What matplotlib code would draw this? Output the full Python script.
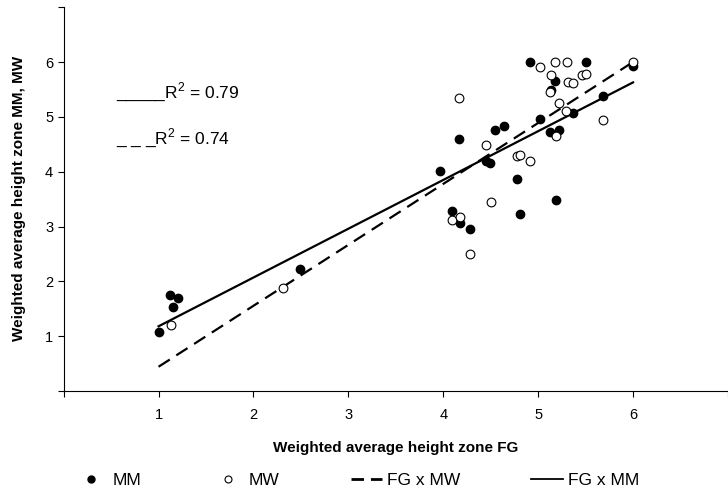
import numpy as np
import matplotlib
matplotlib.use('Agg')
from matplotlib import pyplot as plt
from matplotlib.lines import Line2D

plt.rcParams['font.family'] = ['Liberation Sans', 'DejaVu Sans']
plt.rcParams['mathtext.fontset'] = 'custom'
plt.rcParams['mathtext.rm'] = 'Liberation Sans'

# weighted average height zones per plot
fg_mm = [1.00, 1.12, 1.20, 1.155, 2.49, 3.97, 4.09, 4.17, 4.18, 4.28, 4.45, 4.49,
         4.55, 4.64, 4.78, 4.81, 4.91, 5.02, 5.12, 5.14, 5.18, 5.19, 5.22, 5.37,
         5.50, 5.68, 6.00]
mm = [1.07, 1.75, 1.69, 1.54, 2.22, 4.01, 3.28, 4.59, 3.07, 2.96, 4.19, 4.16,
      4.77, 4.83, 3.86, 3.23, 6.00, 4.96, 4.72, 5.49, 5.66, 3.49, 4.77, 5.07,
      6.00, 5.38, 5.93]

fg_mw = [1.13, 2.31, 4.09, 4.17, 4.18, 4.28, 4.45, 4.50, 4.78, 4.81, 4.91, 5.02,
         5.12, 5.14, 5.18, 5.19, 5.22, 5.29, 5.30, 5.31, 5.37, 5.46, 5.50, 5.68,
         6.00]
mw = [1.20, 1.87, 3.12, 5.34, 3.18, 2.50, 4.48, 3.45, 4.28, 4.30, 4.20, 5.91,
      5.45, 5.76, 6.00, 4.65, 5.26, 5.11, 6.00, 5.63, 5.61, 5.76, 5.79, 4.95,
      6.00]

# linear trend lines (slope, intercept) and their R2
fit_mm = (0.89, 0.29)
fit_mw = (1.112, -0.67)
r2_mm = 0.79
r2_mw = 0.74
fit_range = [1, 6]

fig = plt.figure(figsize=(7.28, 4.91), dpi=100)
ax = fig.add_axes([0.0874, 0.2037, 0.9126, 0.7826])

xs = np.array(fit_range)
ax.plot(xs, fit_mw[0] * xs + fit_mw[1], color='black', lw=1.6, dashes=(6, 3.5))
ax.plot(xs, fit_mm[0] * xs + fit_mm[1], color='black', lw=1.6)

ax.plot(fg_mm, mm, 'o', color='black', ms=6, zorder=3)
ax.plot(fg_mw, mw, 'o', mfc='white', mec='black', mew=0.8, ms=6.3, zorder=3)

ax.set_xlim(0, 6.906)
ax.set_ylim(0, 7.01)
ax.set_xticks(range(0, 8))
ax.set_xticklabels(['', '1', '2', '3', '4', '5', '6', ''])
ax.set_yticks(range(0, 8))
ax.set_yticklabels(['', '1', '2', '3', '4', '5', '6', ''])
ax.tick_params(direction='out', length=4, width=0.8, labelsize=10.5)
ax.tick_params(axis='x', pad=8)
ax.spines['top'].set_visible(False)
ax.spines['right'].set_visible(False)

ax.set_xlabel('Weighted average height zone FG', fontsize=11, fontweight='bold', labelpad=14)
ax.set_ylabel('Weighted average height zone MM, MW', fontsize=11, fontweight='bold', labelpad=14)

ax.text(0.555, 5.36, '_____R$^2$ = %.2f' % r2_mm, fontsize=12.5, va='baseline')
ax.text(0.555, 4.52, '_ _ _R$^2$ = %.2f' % r2_mw, fontsize=12.5, va='baseline')

handles = [
    Line2D([], [], ls='none', marker='o', color='black', ms=5),
    Line2D([], [], ls='none', marker='o', mfc='white', mec='black', mew=0.8, ms=5),
    Line2D([], [], color='black', lw=2, dashes=(4.5, 2.5)),
    Line2D([], [], color='black', lw=1.3),
]
fig.legend(handles, ['MM', 'MW', 'FG x MW', 'FG x MM'], loc='center',
           bbox_to_anchor=(0.491, 0.022), ncol=4, frameon=False, fontsize=12.5,
           handlelength=1.8, handletextpad=0.3, columnspacing=4.1)

fig.savefig('out.png', dpi=100)
